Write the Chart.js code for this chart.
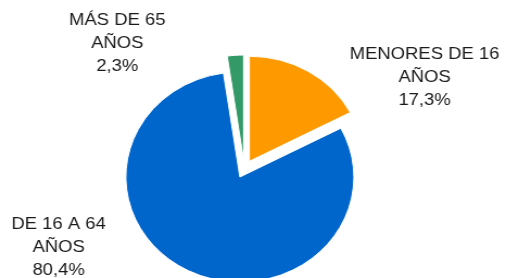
<!DOCTYPE html>
<html>
<head>
<meta charset="utf-8">
<script src="https://cdn.jsdelivr.net/npm/chart.js@4.4.1/dist/chart.umd.min.js"></script>
<style>
  html, body { margin: 0; padding: 0; background: #fff; }
</style>
</head>
<body>
<!-- the reference is stretched a bit horizontally, so the canvas is too (inline style so Chart.js keeps it) -->
<canvas id="pie" width="466" height="278" style="display:block;width:506px;height:278px"></canvas>
<script>
const categories = [['MENORES DE 16', 'AÑOS'], ['DE 16 A 64', 'AÑOS'], ['MÁS DE 65', 'AÑOS']];
const shares = [17.3, 80.4, 2.3];
const sliceColors = ['#ff9900', '#0066cc', '#339966'];

// where each label block sits (canvas px), same order as categories
const labelAnchors = [
    { x: 391, y: 77 },
    { x: 54, y: 247 },
    { x: 108, y: 43 }
];

const fmt = v => v.toFixed(1).replace('.', ',') + '%';

// chart.js "offset" also grows big slices, so push every slice out by hand instead
const explode = {
    id: 'explode',
    afterDatasetUpdate(chart, args) {
        const dist = 9;
        chart.getDatasetMeta(args.index).data.forEach(arc => {
            const mid = (arc.startAngle + arc.endAngle) / 2;
            arc.x += Math.cos(mid) * dist;
            arc.y += Math.sin(mid) * dist;
        });
    }
};

const sliceLabels = {
    id: 'sliceLabels',
    afterDraw(chart) {
        const ctx = chart.ctx;
        ctx.save();
        ctx.font = "17px 'Liberation Sans', Arial, sans-serif";
        ctx.fillStyle = '#1a1a1a';
        ctx.textAlign = 'center';
        ctx.textBaseline = 'middle';
        chart.data.datasets[0].data.forEach((v, i) => {
            const lines = chart.data.labels[i].concat(fmt(v));
            const a = labelAnchors[i];
            lines.forEach((t, j) => {
                ctx.fillText(t, a.x, a.y + (j - 1) * 23);
            });
        });
        ctx.restore();
    }
};

new Chart(document.getElementById('pie'), {
    type: 'pie',
    data: {
        labels: categories,
        datasets: [{
            data: shares,
            backgroundColor: sliceColors,
            borderColor: '#ffffff',
            borderWidth: 1,
            clip: false
        }]
    },
    options: {
        responsive: false,
        animation: false,
        radius: 105,
        layout: { padding: { top: 60, bottom: 0, left: 0, right: 16 } },
        plugins: {
            legend: { display: false },
            tooltip: { enabled: false }
        }
    },
    plugins: [explode, sliceLabels]
});
</script>
</body>
</html>
